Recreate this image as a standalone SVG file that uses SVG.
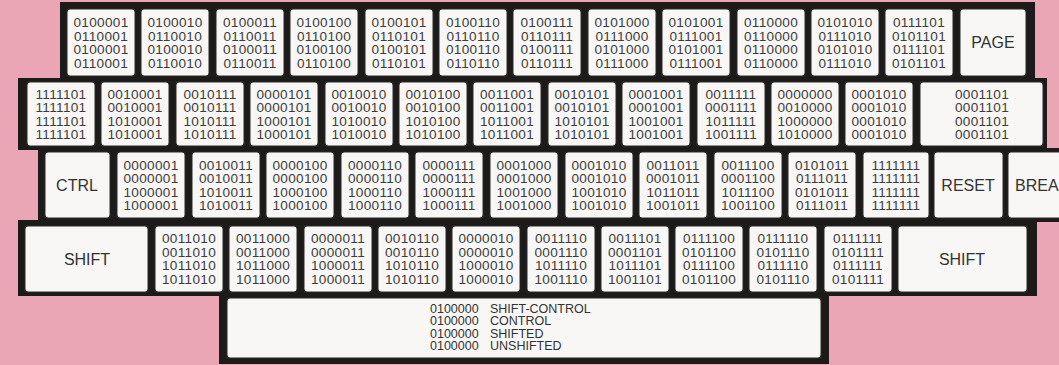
<svg xmlns="http://www.w3.org/2000/svg" width="1059" height="365" viewBox="0 0 1059 365">
<style>
.bg{fill:#eba6b6}
.frame{fill:#1d1a1a}
.key{fill:#f8f7f5;stroke:#2a2a2a;stroke-width:1}
.code{font-family:"Liberation Sans",Arial,sans-serif;font-size:13.6px;fill:#3c3c3c;text-anchor:middle;letter-spacing:0.3px}
.lbl{font-family:"Liberation Sans",Arial,sans-serif;font-size:16px;fill:#333;text-anchor:middle}
.sp{font-family:"Liberation Sans",Arial,sans-serif;font-size:12.5px;fill:#333}
</style>
<rect class="bg" x="0" y="0" width="1059" height="365"/>
<path class="frame" d="M60,2 H1035 V78 H1047 V148 H1059 V222 H1037 V296 H829 V364 H219 V296 H18 V220 H38 V150 H18 V78 H60 Z"/>

<!-- Row 1 -->
<g id="k_r1_1"><rect class="key" x="67" y="9" width="68" height="67" rx="3"/><text class="code" y="27"><tspan x="101">0100001</tspan><tspan x="101" dy="13.5">0110001</tspan><tspan x="101" dy="13.5">0100001</tspan><tspan x="101" dy="13.5">0110001</tspan></text></g>
<g id="k_r1_2"><rect class="key" x="141" y="9" width="68" height="67" rx="3"/><text class="code" y="27"><tspan x="175">0100010</tspan><tspan x="175" dy="13.5">0110010</tspan><tspan x="175" dy="13.5">0100010</tspan><tspan x="175" dy="13.5">0110010</tspan></text></g>
<g id="k_r1_3"><rect class="key" x="216" y="9" width="68" height="67" rx="3"/><text class="code" y="27"><tspan x="250">0100011</tspan><tspan x="250" dy="13.5">0110011</tspan><tspan x="250" dy="13.5">0100011</tspan><tspan x="250" dy="13.5">0110011</tspan></text></g>
<g id="k_r1_4"><rect class="key" x="290" y="9" width="68" height="67" rx="3"/><text class="code" y="27"><tspan x="324">0100100</tspan><tspan x="324" dy="13.5">0110100</tspan><tspan x="324" dy="13.5">0100100</tspan><tspan x="324" dy="13.5">0110100</tspan></text></g>
<g id="k_r1_5"><rect class="key" x="365" y="9" width="68" height="67" rx="3"/><text class="code" y="27"><tspan x="399">0100101</tspan><tspan x="399" dy="13.5">0110101</tspan><tspan x="399" dy="13.5">0100101</tspan><tspan x="399" dy="13.5">0110101</tspan></text></g>
<g id="k_r1_6"><rect class="key" x="439" y="9" width="68" height="67" rx="3"/><text class="code" y="27"><tspan x="473">0100110</tspan><tspan x="473" dy="13.5">0110110</tspan><tspan x="473" dy="13.5">0100110</tspan><tspan x="473" dy="13.5">0110110</tspan></text></g>
<g id="k_r1_7"><rect class="key" x="513" y="9" width="68" height="67" rx="3"/><text class="code" y="27"><tspan x="547">0100111</tspan><tspan x="547" dy="13.5">0110111</tspan><tspan x="547" dy="13.5">0100111</tspan><tspan x="547" dy="13.5">0110111</tspan></text></g>
<g id="k_r1_8"><rect class="key" x="588" y="9" width="68" height="67" rx="3"/><text class="code" y="27"><tspan x="622">0101000</tspan><tspan x="622" dy="13.5">0111000</tspan><tspan x="622" dy="13.5">0101000</tspan><tspan x="622" dy="13.5">0111000</tspan></text></g>
<g id="k_r1_9"><rect class="key" x="662" y="9" width="68" height="67" rx="3"/><text class="code" y="27"><tspan x="696">0101001</tspan><tspan x="696" dy="13.5">0111001</tspan><tspan x="696" dy="13.5">0101001</tspan><tspan x="696" dy="13.5">0111001</tspan></text></g>
<g id="k_r1_10"><rect class="key" x="737" y="9" width="68" height="67" rx="3"/><text class="code" y="27"><tspan x="771">0110000</tspan><tspan x="771" dy="13.5">0110000</tspan><tspan x="771" dy="13.5">0110000</tspan><tspan x="771" dy="13.5">0110000</tspan></text></g>
<g id="k_r1_11"><rect class="key" x="811" y="9" width="68" height="67" rx="3"/><text class="code" y="27"><tspan x="845">0101010</tspan><tspan x="845" dy="13.5">0111010</tspan><tspan x="845" dy="13.5">0101010</tspan><tspan x="845" dy="13.5">0111010</tspan></text></g>
<g id="k_r1_12"><rect class="key" x="885" y="9" width="68" height="67" rx="3"/><text class="code" y="27"><tspan x="919">0111101</tspan><tspan x="919" dy="13.5">0101101</tspan><tspan x="919" dy="13.5">0111101</tspan><tspan x="919" dy="13.5">0101101</tspan></text></g>
<g id="k_page"><rect class="key" x="960" y="9" width="66" height="67" rx="3"/><text class="lbl" x="993" y="48">PAGE</text></g>

<!-- Row 2 -->
<g id="k_r2_1"><rect class="key" x="27" y="82" width="68" height="64" rx="3"/><text class="code" y="99.2"><tspan x="61">1111101</tspan><tspan x="61" dy="13.2">1111101</tspan><tspan x="61" dy="13.2">1111101</tspan><tspan x="61" dy="13.2">1111101</tspan></text></g>
<g id="k_r2_2"><rect class="key" x="101" y="82" width="68" height="64" rx="3"/><text class="code" y="99.2"><tspan x="135">0010001</tspan><tspan x="135" dy="13.2">0010001</tspan><tspan x="135" dy="13.2">1010001</tspan><tspan x="135" dy="13.2">1010001</tspan></text></g>
<g id="k_r2_3"><rect class="key" x="176" y="82" width="68" height="64" rx="3"/><text class="code" y="99.2"><tspan x="210">0010111</tspan><tspan x="210" dy="13.2">0010111</tspan><tspan x="210" dy="13.2">1010111</tspan><tspan x="210" dy="13.2">1010111</tspan></text></g>
<g id="k_r2_4"><rect class="key" x="250" y="82" width="68" height="64" rx="3"/><text class="code" y="99.2"><tspan x="284">0000101</tspan><tspan x="284" dy="13.2">0000101</tspan><tspan x="284" dy="13.2">1000101</tspan><tspan x="284" dy="13.2">1000101</tspan></text></g>
<g id="k_r2_5"><rect class="key" x="325" y="82" width="68" height="64" rx="3"/><text class="code" y="99.2"><tspan x="359">0010010</tspan><tspan x="359" dy="13.2">0010010</tspan><tspan x="359" dy="13.2">1010010</tspan><tspan x="359" dy="13.2">1010010</tspan></text></g>
<g id="k_r2_6"><rect class="key" x="399" y="82" width="68" height="64" rx="3"/><text class="code" y="99.2"><tspan x="433">0010100</tspan><tspan x="433" dy="13.2">0010100</tspan><tspan x="433" dy="13.2">1010100</tspan><tspan x="433" dy="13.2">1010100</tspan></text></g>
<g id="k_r2_7"><rect class="key" x="473" y="82" width="68" height="64" rx="3"/><text class="code" y="99.2"><tspan x="507">0011001</tspan><tspan x="507" dy="13.2">0011001</tspan><tspan x="507" dy="13.2">1011001</tspan><tspan x="507" dy="13.2">1011001</tspan></text></g>
<g id="k_r2_8"><rect class="key" x="548" y="82" width="68" height="64" rx="3"/><text class="code" y="99.2"><tspan x="582">0010101</tspan><tspan x="582" dy="13.2">0010101</tspan><tspan x="582" dy="13.2">1010101</tspan><tspan x="582" dy="13.2">1010101</tspan></text></g>
<g id="k_r2_9"><rect class="key" x="622" y="82" width="68" height="64" rx="3"/><text class="code" y="99.2"><tspan x="656">0001001</tspan><tspan x="656" dy="13.2">0001001</tspan><tspan x="656" dy="13.2">1001001</tspan><tspan x="656" dy="13.2">1001001</tspan></text></g>
<g id="k_r2_10"><rect class="key" x="697" y="82" width="68" height="64" rx="3"/><text class="code" y="99.2"><tspan x="731">0011111</tspan><tspan x="731" dy="13.2">0001111</tspan><tspan x="731" dy="13.2">1011111</tspan><tspan x="731" dy="13.2">1001111</tspan></text></g>
<g id="k_r2_11"><rect class="key" x="771" y="82" width="68" height="64" rx="3"/><text class="code" y="99.2"><tspan x="805">0000000</tspan><tspan x="805" dy="13.2">0010000</tspan><tspan x="805" dy="13.2">1000000</tspan><tspan x="805" dy="13.2">1010000</tspan></text></g>
<g id="k_r2_12"><rect class="key" x="845" y="82" width="68" height="64" rx="3"/><text class="code" y="99.2"><tspan x="879">0001010</tspan><tspan x="879" dy="13.2">0001010</tspan><tspan x="879" dy="13.2">0001010</tspan><tspan x="879" dy="13.2">0001010</tspan></text></g>
<g id="k_r2_13"><rect class="key" x="920" y="82" width="123" height="64" rx="3"/><text class="code" y="99.2"><tspan x="982">0001101</tspan><tspan x="982" dy="13.2">0001101</tspan><tspan x="982" dy="13.2">0001101</tspan><tspan x="982" dy="13.2">0001101</tspan></text></g>

<!-- Row 3 -->
<g id="k_ctrl"><rect class="key" x="45" y="152" width="65" height="66" rx="3"/><text class="lbl" x="77" y="191">CTRL</text></g>
<g id="k_r3_1"><rect class="key" x="117" y="152" width="68" height="66" rx="3"/><text class="code" y="170"><tspan x="151">0000001</tspan><tspan x="151" dy="13.3">0000001</tspan><tspan x="151" dy="13.3">1000001</tspan><tspan x="151" dy="13.3">1000001</tspan></text></g>
<g id="k_r3_2"><rect class="key" x="192" y="152" width="68" height="66" rx="3"/><text class="code" y="170"><tspan x="226">0010011</tspan><tspan x="226" dy="13.3">0010011</tspan><tspan x="226" dy="13.3">1010011</tspan><tspan x="226" dy="13.3">1010011</tspan></text></g>
<g id="k_r3_3"><rect class="key" x="266" y="152" width="68" height="66" rx="3"/><text class="code" y="170"><tspan x="300">0000100</tspan><tspan x="300" dy="13.3">0000100</tspan><tspan x="300" dy="13.3">1000100</tspan><tspan x="300" dy="13.3">1000100</tspan></text></g>
<g id="k_r3_4"><rect class="key" x="341" y="152" width="68" height="66" rx="3"/><text class="code" y="170"><tspan x="375">0000110</tspan><tspan x="375" dy="13.3">0000110</tspan><tspan x="375" dy="13.3">1000110</tspan><tspan x="375" dy="13.3">1000110</tspan></text></g>
<g id="k_r3_5"><rect class="key" x="415" y="152" width="68" height="66" rx="3"/><text class="code" y="170"><tspan x="449">0000111</tspan><tspan x="449" dy="13.3">0000111</tspan><tspan x="449" dy="13.3">1000111</tspan><tspan x="449" dy="13.3">1000111</tspan></text></g>
<g id="k_r3_6"><rect class="key" x="490" y="152" width="68" height="66" rx="3"/><text class="code" y="170"><tspan x="524">0001000</tspan><tspan x="524" dy="13.3">0001000</tspan><tspan x="524" dy="13.3">1001000</tspan><tspan x="524" dy="13.3">1001000</tspan></text></g>
<g id="k_r3_7"><rect class="key" x="565" y="152" width="68" height="66" rx="3"/><text class="code" y="170"><tspan x="599">0001010</tspan><tspan x="599" dy="13.3">0001010</tspan><tspan x="599" dy="13.3">1001010</tspan><tspan x="599" dy="13.3">1001010</tspan></text></g>
<g id="k_r3_8"><rect class="key" x="639" y="152" width="68" height="66" rx="3"/><text class="code" y="170"><tspan x="673">0011011</tspan><tspan x="673" dy="13.3">0001011</tspan><tspan x="673" dy="13.3">1011011</tspan><tspan x="673" dy="13.3">1001011</tspan></text></g>
<g id="k_r3_9"><rect class="key" x="714" y="152" width="68" height="66" rx="3"/><text class="code" y="170"><tspan x="748">0011100</tspan><tspan x="748" dy="13.3">0001100</tspan><tspan x="748" dy="13.3">1011100</tspan><tspan x="748" dy="13.3">1001100</tspan></text></g>
<g id="k_r3_10"><rect class="key" x="788" y="152" width="68" height="66" rx="3"/><text class="code" y="170"><tspan x="822">0101011</tspan><tspan x="822" dy="13.3">0111011</tspan><tspan x="822" dy="13.3">0101011</tspan><tspan x="822" dy="13.3">0111011</tspan></text></g>
<g id="k_r3_11"><rect class="key" x="863" y="152" width="66" height="66" rx="3"/><text class="code" y="170"><tspan x="896">1111111</tspan><tspan x="896" dy="13.3">1111111</tspan><tspan x="896" dy="13.3">1111111</tspan><tspan x="896" dy="13.3">1111111</tspan></text></g>
<g id="k_reset"><rect class="key" x="934" y="152" width="69" height="66" rx="3"/><text class="lbl" x="968" y="191">RESET</text></g>
<g id="k_break"><rect class="key" x="1008" y="152" width="70" height="66" rx="3"/><text class="lbl" x="1015" y="191" style="text-anchor:start">BREA</text></g>

<!-- Row 4 -->
<g id="k_shift_l"><rect class="key" x="25" y="226" width="123" height="66" rx="3"/><text class="lbl" x="87" y="265">SHIFT</text></g>
<g id="k_r4_1"><rect class="key" x="155" y="226" width="68" height="66" rx="3"/><text class="code" y="243"><tspan x="189">0011010</tspan><tspan x="189" dy="13.5">0011010</tspan><tspan x="189" dy="13.5">1011010</tspan><tspan x="189" dy="13.5">1011010</tspan></text></g>
<g id="k_r4_2"><rect class="key" x="229" y="226" width="68" height="66" rx="3"/><text class="code" y="243"><tspan x="263">0011000</tspan><tspan x="263" dy="13.5">0011000</tspan><tspan x="263" dy="13.5">1011000</tspan><tspan x="263" dy="13.5">1011000</tspan></text></g>
<g id="k_r4_3"><rect class="key" x="304" y="226" width="68" height="66" rx="3"/><text class="code" y="243"><tspan x="338">0000011</tspan><tspan x="338" dy="13.5">0000011</tspan><tspan x="338" dy="13.5">1000011</tspan><tspan x="338" dy="13.5">1000011</tspan></text></g>
<g id="k_r4_4"><rect class="key" x="378" y="226" width="68" height="66" rx="3"/><text class="code" y="243"><tspan x="412">0010110</tspan><tspan x="412" dy="13.5">0010110</tspan><tspan x="412" dy="13.5">1010110</tspan><tspan x="412" dy="13.5">1010110</tspan></text></g>
<g id="k_r4_5"><rect class="key" x="452" y="226" width="68" height="66" rx="3"/><text class="code" y="243"><tspan x="486">0000010</tspan><tspan x="486" dy="13.5">0000010</tspan><tspan x="486" dy="13.5">1000010</tspan><tspan x="486" dy="13.5">1000010</tspan></text></g>
<g id="k_r4_6"><rect class="key" x="527" y="226" width="68" height="66" rx="3"/><text class="code" y="243"><tspan x="561">0011110</tspan><tspan x="561" dy="13.5">0001110</tspan><tspan x="561" dy="13.5">1011110</tspan><tspan x="561" dy="13.5">1001110</tspan></text></g>
<g id="k_r4_7"><rect class="key" x="601" y="226" width="68" height="66" rx="3"/><text class="code" y="243"><tspan x="635">0011101</tspan><tspan x="635" dy="13.5">0001101</tspan><tspan x="635" dy="13.5">1011101</tspan><tspan x="635" dy="13.5">1001101</tspan></text></g>
<g id="k_r4_8"><rect class="key" x="675" y="226" width="68" height="66" rx="3"/><text class="code" y="243"><tspan x="709">0111100</tspan><tspan x="709" dy="13.5">0101100</tspan><tspan x="709" dy="13.5">0111100</tspan><tspan x="709" dy="13.5">0101100</tspan></text></g>
<g id="k_r4_9"><rect class="key" x="749" y="226" width="68" height="66" rx="3"/><text class="code" y="243"><tspan x="783">0111110</tspan><tspan x="783" dy="13.5">0101110</tspan><tspan x="783" dy="13.5">0111110</tspan><tspan x="783" dy="13.5">0101110</tspan></text></g>
<g id="k_r4_10"><rect class="key" x="824" y="226" width="68" height="66" rx="3"/><text class="code" y="243"><tspan x="858">0111111</tspan><tspan x="858" dy="13.5">0101111</tspan><tspan x="858" dy="13.5">0111111</tspan><tspan x="858" dy="13.5">0101111</tspan></text></g>
<g id="k_shift_r"><rect class="key" x="898" y="226" width="129" height="66" rx="3"/><text class="lbl" x="962" y="265">SHIFT</text></g>

<!-- Space bar -->
<g id="k_space"><rect class="key" x="227" y="298" width="594" height="60" rx="3"/>
<text class="sp" y="313"><tspan x="430">0100000</tspan><tspan x="430" dy="12.3">0100000</tspan><tspan x="430" dy="12.3">0100000</tspan><tspan x="430" dy="12.3">0100000</tspan></text>
<text class="sp" y="313"><tspan x="490">SHIFT-CONTROL</tspan><tspan x="490" dy="12.3">CONTROL</tspan><tspan x="490" dy="12.3">SHIFTED</tspan><tspan x="490" dy="12.3">UNSHIFTED</tspan></text>
</g>
<g id="connectors"></g>
</svg>
